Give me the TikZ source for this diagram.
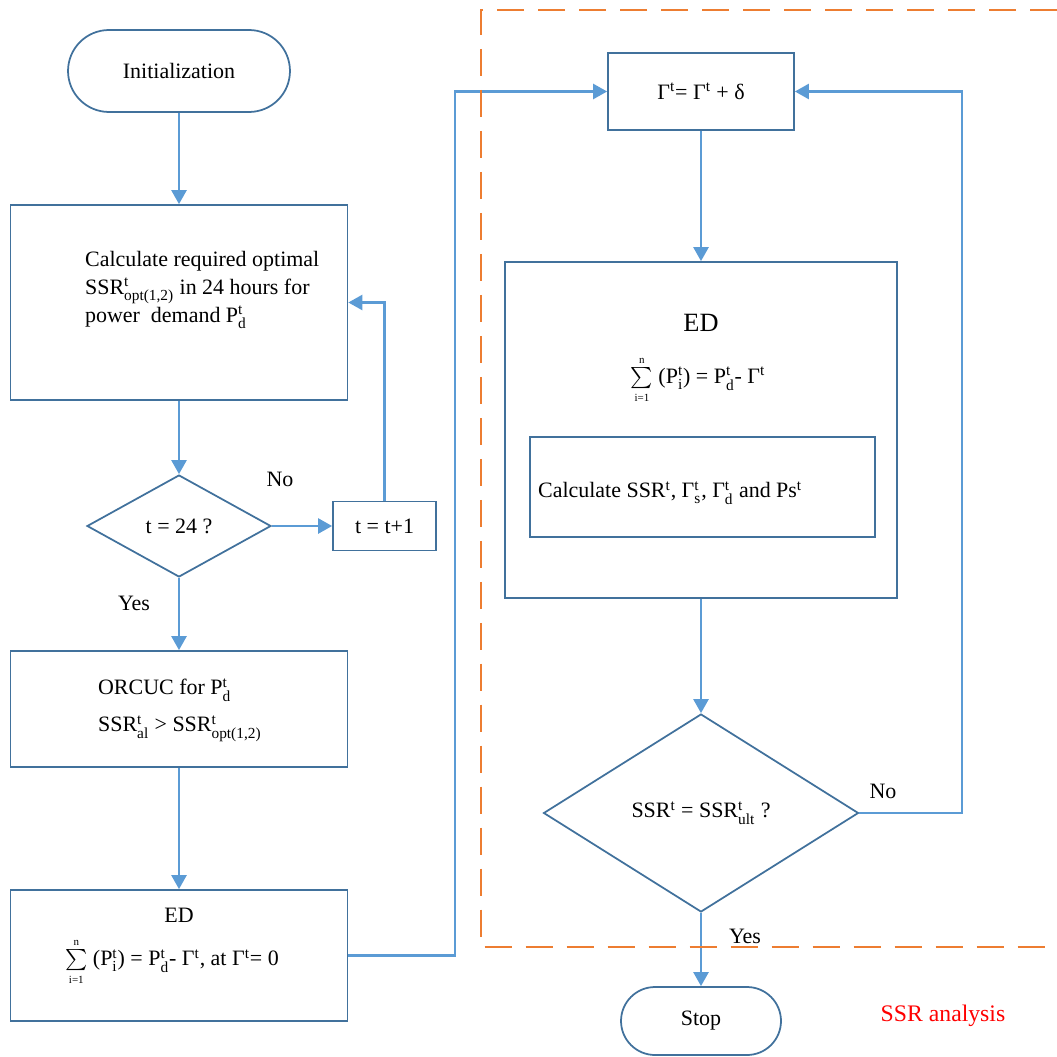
\documentclass[tikz,border=0pt]{standalone}
\usepackage{mathtools}
\usepackage{fontspec}
\setmainfont{Liberation Serif}
\usetikzlibrary{shapes.geometric,arrows.meta}

\definecolor{boxblue}{RGB}{65,113,156}
\definecolor{lineblue}{RGB}{91,155,213}
\definecolor{dashorange}{RGB}{237,125,49}

\newcommand{\sumlim}{$\sum\limits_{\scriptscriptstyle\text{i=1}}^{\scriptscriptstyle\text{n}}$}

\begin{document}
\begin{tikzpicture}
  [x=0.02cm, y=-0.02cm,
   every node/.style={font=\fontsize{12.5}{16}\selectfont, inner sep=1pt},
   box/.style={draw=boxblue, line width=1pt, rectangle},
   test/.style={draw=boxblue, line width=1pt, diamond, inner sep=0pt},
   arr/.style={draw=lineblue, line width=1.4pt, -{Triangle[length=2.8mm,width=3mm]}}]

  \useasboundingbox (0,0) rectangle (1057,1057);

  % left column
  \node[box, rounded corners=0.82cm, minimum width=4.44cm, minimum height=1.64cm] (init) at (179,71) {Initialization};
  \node[box, minimum width=6.74cm, minimum height=3.9cm] (calc) at (179,302.5) {};
  \node[align=left, anchor=west] (calctxt) at (83,290)
    {Calculate required optimal\\SSR$^{\text{t}}_{\text{opt(1,2)}}$ in 24 hours for\\ power\ \ demand P$^{\text{t}}_{\text{d}}$};
  \node[test, minimum width=3.68cm, minimum height=2.04cm] (chkhour) at (179,526) {t = 24 ?};
  \node[box, minimum width=2.06cm, minimum height=0.98cm] (inc) at (384.5,526) {t = t+1};
  \node[box, minimum width=6.74cm, minimum height=2.32cm] (orcuc) at (179,709) {};
  \node[align=left, anchor=west] (orcuctxt) at (96,710)
    {ORCUC for P$^{\text{t}}_{\text{d}}$\\[5pt] SSR$^{\text{t}}_{\text{al}}$ > SSR$^{\text{t}}_{\text{opt(1,2)}}$};
  \node[box, minimum width=6.74cm, minimum height=2.62cm] (edfirst) at (179,955.5) {};
  \node (edfirsthead) at (179,915) {ED};
  \node (edfirstsum) at (172,962)
    {\sumlim\ (P$^{\text{t}}_{\text{i}}$) = P$^{\text{t}}_{\text{d}}$- Γ$^{\text{t}}$, at Γ$^{\text{t}}$= 0};

  % right column
  \node[box, minimum width=3.72cm, minimum height=1.54cm] (gam) at (701,91.5) {Γ$^{\text{t}}$= Γ$^{\text{t}}$ + δ};
  \node[box, minimum width=7.84cm, minimum height=6.72cm] (edsec) at (701,430) {};
  \node[font=\fontsize{15}{18}\selectfont] (edsechead) at (701,323) {ED};
  \node (edsecsum) at (698,380)
    {\sumlim\ (P$^{\text{t}}_{\text{i}}$) = P$^{\text{t}}_{\text{d}}$- Γ$^{\text{t}}$};
  \node[box, minimum width=6.9cm, minimum height=2cm] (calcin) at (702.5,487) {};
  \node[anchor=west] (calcintxt) at (536,493)
    {Calculate SSR$^{\text{t}}$, Γ$^{\text{t}}_{\text{s}}$, Γ$^{\text{t}}_{\text{d}}$\ and Ps$^{\text{t}}$};
  \node[test, minimum width=6.3cm, minimum height=3.96cm] (chkssr) at (701,813)
    {SSR$^{\text{t}}$ = SSR$^{\text{t}}_{\text{ult}}$\ ?};
  \node[box, rounded corners=0.68cm, minimum width=3.2cm, minimum height=1.36cm] (stop) at (701,1021) {Stop};

  \coordinate (jog) at (455,0);
  \coordinate (back) at (962,0);

  \draw[arr] (init) -- (calc);
  \draw[arr] (calc) -- (chkhour);
  \draw[arr] (chkhour.east) -- (inc.west);
  \draw[arr] (inc.north) |- (calc.east);
  \draw[arr] (chkhour) -- (orcuc);
  \draw[arr] (orcuc) -- (edfirst);
  \draw[arr] (edfirst.east) -- (edfirst.east -| jog) |- (gam.west);
  \draw[arr] (gam) -- (edsec);
  \draw[arr] (edsec) -- (chkssr);
  \draw[arr] (chkssr.east) -- (chkssr.east -| back) |- (gam.east);
  \draw[arr] (chkssr) -- (stop);

  \node (nohour) at (280,479) {No};
  \node (yeshour) at (134,603) {Yes};
  \node (nossr) at (883,791) {No};
  \node (yesssr) at (745,936) {Yes};

  \draw[dashorange, line width=1.1pt, dash pattern=on 0.54cm off 0.28cm]
    (1057,10) -- (481,10) -- (481,947) -- (1057,947);
  \node[text=red, font=\fontsize{13.5}{16}\selectfont] (ssrlabel) at (943,1016) {SSR analysis};
\end{tikzpicture}
\end{document}
